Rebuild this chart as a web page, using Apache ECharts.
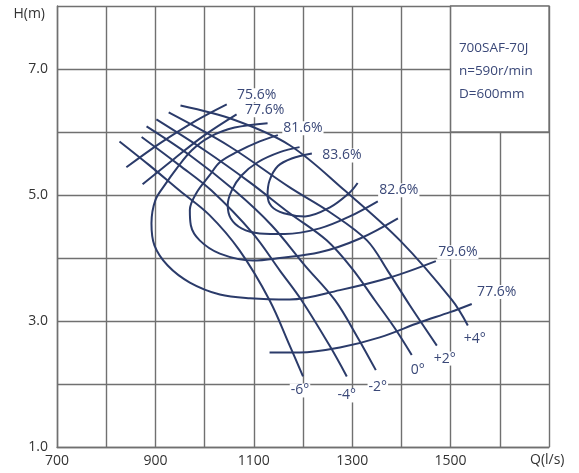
<!DOCTYPE html>
<html><head><meta charset="utf-8">
<script src="https://cdn.jsdelivr.net/npm/echarts@6/dist/echarts.min.js"></script>
<style>html,body{margin:0;padding:0;background:#fff}#c{width:579px;height:473px}</style>
</head><body><div id="c"></div>
<script>
// ---- tick labels ----
const xTickLabels = [700, 900, 1100, 1300, 1500];
const yTickLabels = [1, 3, 5, 7];
const boxLines = ['700SAF-70J', 'n=590r/min', 'D=600mm'];

// ---- blade-angle H-Q curves [Q (l/s), H (m)] ----
const bladeM6 = [[827,5.85],[888,5.47],[949,5.07],[1010,4.68],[1071,4.12],[1132,3.33],[1173,2.61],[1200,2.12]];
const bladeM4 = [[872,5.92],[949,5.47],[1014,5.07],[1098,4.39],[1153,3.80],[1197,3.33],[1254,2.61],[1289,2.12]];
const bladeM2 = [[882,6.09],[970,5.63],[1061,5.07],[1136,4.52],[1204,3.88],[1265,3.33],[1311,2.74],[1348,2.22]];
const blade0  = [[902,6.20],[1000,5.71],[1092,5.20],[1173,4.71],[1248,4.28],[1299,3.84],[1346,3.33],[1387,2.88],[1421,2.46]];
const bladeP2 = [[927,6.31],[1051,5.77],[1173,5.12],[1254,4.73],[1330,4.28],[1372,3.80],[1417,3.25],[1472,2.61]];
const bladeP4 = [[951,6.42],[1061,6.19],[1173,5.79],[1285,5.07],[1397,4.28],[1503,3.33],[1535,2.93]];
const bladeNames = ['-6°','-4°','-2°','0°','+2°','+4°'];

// ---- efficiency contours [Q, H] (labelled end last) ----
const eff756  = [[841,5.44],[909,5.82],[980,6.17],[1045,6.44]];
const eff776a = [[874,5.17],[939,5.58],[1000,5.95],[1065,6.28]];
const eff796  = [[1128,6.14],[1061,6.07],[1010,5.92],[974,5.71],[943,5.42],[921,5.18],[900,4.92],[892,4.55],[898,4.20],[925,3.88],[970,3.61],[1031,3.42],[1092,3.36],[1173,3.34],[1275,3.49],[1377,3.69],[1470,3.95]];
const eff816  = [[1393,4.63],[1316,4.31],[1234,4.09],[1153,4.00],[1098,3.96],[1031,4.07],[990,4.28],[972,4.52],[970,4.76],[984,5.04],[1010,5.31],[1031,5.52],[1065,5.68],[1112,5.85],[1149,5.95]];
const eff826  = [[1193,5.76],[1153,5.68],[1108,5.52],[1075,5.31],[1055,5.07],[1047,4.84],[1053,4.63],[1075,4.47],[1112,4.39],[1163,4.38],[1234,4.47],[1295,4.66],[1352,4.90]];
const eff836  = [[1311,5.19],[1295,5.04],[1254,4.80],[1204,4.66],[1161,4.71],[1136,4.82],[1128,5.00],[1132,5.23],[1149,5.46],[1177,5.58],[1218,5.66]];
const eff776b = [[1132,2.50],[1193,2.50],[1275,2.58],[1356,2.74],[1438,2.98],[1499,3.14],[1543,3.27]];
const effNames = ['75.6%','77.6%','79.6%','81.6%','82.6%','83.6%','77.6%'];

// ---- styling ----
const LINE = '#2b3b6a', TXT = '#3a4878', GRID = '#707070', FONT = 'Open Sans';
const bladeOffsets = [[-3,14],[0,19],[2,17],[6,15],[8,13],[7,14]];
const effOffsets = [[30,-9],[28,-4],[22,-9],[25,-7],[21,-11],[30,2],[25,-12]];

function curve(pts, text, off) {
  return {
    type: 'line', smooth: 0.35, silent: true,
    symbol: 'circle', symbolSize: 0.01, showSymbol: true,
    lineStyle: { color: LINE, width: 2 }, itemStyle: { color: LINE },
    emphasis: { disabled: true }, z: 3,
    data: pts.map((p, i) => i === pts.length - 1 ? {
      value: p,
      label: { show: true, formatter: text, position: 'inside', offset: off,
               color: TXT, fontSize: 14, fontFamily: FONT,
               backgroundColor: '#fff', padding: [0, 1] }
    } : p)
  };
}

const bladeSets = [bladeM6, bladeM4, bladeM2, blade0, bladeP2, bladeP4];
const effSets = [eff756, eff776a, eff796, eff816, eff826, eff836, eff776b];
const series = [];
effSets.forEach((s, i) => series.push(curve(s, effNames[i], effOffsets[i])));
bladeSets.forEach((s, i) => series.push(curve(s, bladeNames[i], bladeOffsets[i])));

series[0].markArea = {
  silent: true,
  itemStyle: { color: '#fff', borderColor: GRID, borderWidth: 1.4 },
  label: { show: true, position: [9, 31], formatter: boxLines.join('\n'),
           color: TXT, fontSize: 13.5, lineHeight: 23, align: 'left',
           verticalAlign: 'top', fontFamily: FONT },
  data: [[{ coord: [1500, 8] }, { coord: [1700, 6] }]]
};

const chart = echarts.init(document.getElementById('c'));
chart.setOption({
  animation: false,
  backgroundColor: '#fff',
  grid: { left: 57, right: 30, top: 6, bottom: 26 },
  xAxis: {
    type: 'value', min: 700, max: 1700, interval: 100,
    axisLine: { show: true, lineStyle: { color: GRID, width: 1.4 } },
    axisTick: { show: false },
    splitLine: { show: true, lineStyle: { color: GRID, width: 1.4 } },
    axisLabel: { formatter: v => xTickLabels.includes(v) ? String(v) : '',
                 color: '#333', fontSize: 14, fontFamily: FONT, margin: 7 },
    name: 'Q(l/s)', nameLocation: 'end', nameGap: -19,
    nameTextStyle: { color: '#333', fontSize: 14, fontFamily: FONT,
                     align: 'left', verticalAlign: 'top', padding: [6, 0, 0, 0] }
  },
  yAxis: {
    type: 'value', min: 1, max: 8, interval: 1,
    axisLine: { show: true, lineStyle: { color: GRID, width: 1.4 } },
    axisTick: { show: false },
    splitLine: { show: true, lineStyle: { color: GRID, width: 1.4 } },
    axisLabel: { formatter: v => yTickLabels.includes(v) ? v.toFixed(1) : '',
                 color: '#333', fontSize: 14, fontFamily: FONT, margin: 9 },
    name: 'H(m)', nameLocation: 'end', nameGap: -8,
    nameTextStyle: { color: '#333', fontSize: 14, fontFamily: FONT,
                     align: 'right', verticalAlign: 'middle', padding: [0, 12, 0, 0] }
  },
  series: series
});
</script>
</body></html>
